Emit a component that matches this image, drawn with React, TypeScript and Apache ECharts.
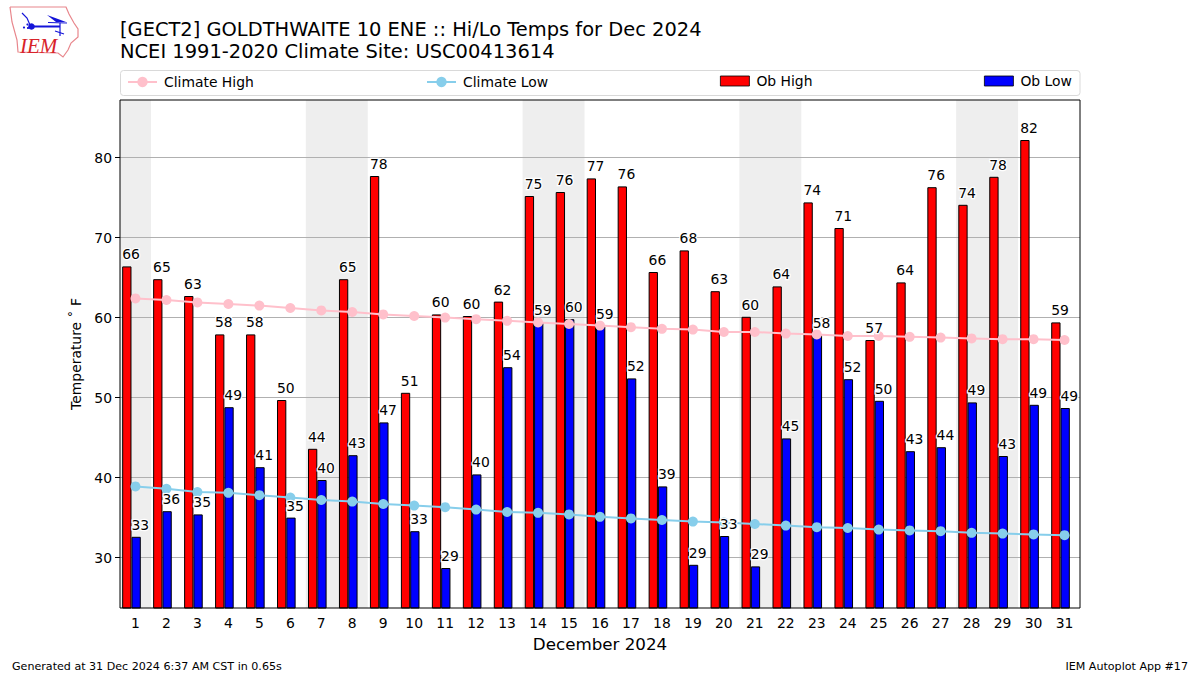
import React, { useEffect, useRef } from "react";
import * as echarts from "echarts";

const days = Array.from({ length: 31 }, (_, i) => String(i + 1));
const obHigh = [66.4, 64.8, 62.7, 57.9, 57.9, 49.7, 43.6, 64.8, 77.7, 50.6, 60.4, 60.2, 62.0, 75.2, 75.7, 77.4, 76.4, 65.7, 68.4, 63.3, 60.1, 63.9, 74.4, 71.2, 57.2, 64.4, 76.3, 74.1, 77.6, 82.2, 59.4];
const obLow = [32.6, 35.8, 35.4, 48.8, 41.3, 35.0, 39.7, 42.8, 46.9, 33.3, 28.7, 40.4, 53.8, 59.4, 59.8, 58.9, 52.4, 38.9, 29.1, 32.7, 28.9, 44.9, 57.8, 52.3, 49.6, 43.3, 43.8, 49.4, 42.7, 49.1, 48.7];
const climateHigh = [62.4, 62.2, 61.9, 61.7, 61.5, 61.2, 60.9, 60.7, 60.4, 60.2, 60.0, 59.8, 59.6, 59.4, 59.2, 59.0, 58.8, 58.6, 58.5, 58.2, 58.2, 58.0, 57.9, 57.7, 57.7, 57.6, 57.5, 57.4, 57.3, 57.3, 57.2];
const climateLow = [38.9, 38.6, 38.2, 38.1, 37.8, 37.5, 37.2, 37.0, 36.7, 36.5, 36.3, 36.0, 35.7, 35.6, 35.4, 35.1, 34.9, 34.7, 34.5, 34.4, 34.2, 34.0, 33.8, 33.7, 33.5, 33.4, 33.3, 33.1, 33.0, 32.9, 32.8];
const yTicks = [30, 40, 50, 60, 70, 80];
const weekendBands = [[0.5, 1.5], [6.5, 8.5], [13.5, 15.5], [20.5, 22.5], [27.5, 29.5]];

const FONT = "DejaVu Sans";
const Y_MIN = 23.7;
const Y_MAX = 87.2;

const logoOutline = [[10, 7], [66, 7], [69, 14], [74, 23], [78, 29], [78, 37], [71, 43], [68, 50], [63, 57], [58, 53], [18, 52], [17, 40], [12, 22], [10, 7]];
const logoWing = [[47, 15], [58, 19], [66, 22], [56, 22]];
const BLUE = "#1414d8";

export default function App() {
  const ref = useRef<HTMLDivElement>(null);
  useEffect(() => {
    document.body.style.margin = "0";
    const chart = echarts.init(ref.current!, null, { renderer: "svg" });
    const barLabel = {
      show: true,
      position: "top" as const,
      align: "left" as const,
      distance: 5,
      offset: [-4.7, 0],
      fontFamily: FONT,
      fontSize: 13.9,
      color: "#000",
      textBorderColor: "#fff",
      textBorderWidth: 2.5,
      formatter: (p: any) => String(Math.round(p.value)),
    };
    const legendBase = {
      orient: "horizontal" as const,
      itemWidth: 29,
      itemGap: 0,
      padding: 0,
      textStyle: { fontFamily: FONT, fontSize: 13.9, color: "#000", padding: [0, 0, 0, 2] },
    };
    const lineLegend = { ...legendBase, top: 75, itemHeight: 13 };
    const barLegend = {
      ...legendBase, top: 74, itemHeight: 10, icon: "rect",
      itemStyle: { borderWidth: 0.8, borderColor: "#000", borderJoin: "miter" },
    };
    const labelOnly = { color: "transparent", borderWidth: 0 };
    chart.setOption({
      animation: false,
      title: {
        text: "[GECT2] GOLDTHWAITE 10 ENE :: Hi/Lo Temps for Dec 2024\nNCEI 1991-2020 Climate Site: USC00413614",
        left: 120,
        top: 18,
        padding: 0,
        textStyle: { fontFamily: FONT, fontSize: 19.45, fontWeight: "normal", color: "#000", lineHeight: 22 },
      },
      legend: [
        { ...lineLegend, left: 127, data: ["Climate High"] },
        { ...lineLegend, left: 426, data: ["Climate Low"] },
        { ...barLegend, left: 720, data: ["Ob High"] },
        { ...barLegend, left: 984, data: ["Ob Low"] },
      ],
      grid: [
        { left: 120, top: 100, width: 960, height: 508, show: true, z: 5, borderColor: "#000", borderWidth: 1, backgroundColor: "transparent" },
        { left: 116, top: 100, width: 960, height: 508 },
        { left: 116, top: 100, width: 960, height: 508 },
      ],
      xAxis: [
        {
          type: "category", gridIndex: 0, data: days,
          name: "December 2024", nameLocation: "middle", nameGap: 27,
          nameTextStyle: { fontFamily: FONT, fontSize: 16.7, color: "#000" },
          axisLine: { show: false },
          axisTick: { alignWithLabel: true, length: 5, lineStyle: { color: "#000" } },
          axisLabel: { interval: 0, margin: 8, fontFamily: FONT, fontSize: 13.9, color: "#000" },
          splitLine: { show: false },
        },
        { type: "category", gridIndex: 1, data: days, show: false },
        { type: "value", gridIndex: 0, min: 0.5, max: 31.5, show: false, splitLine: { show: false } },
        { type: "category", gridIndex: 2, data: days, show: false },
      ],
      yAxis: [
        {
          type: "value", gridIndex: 0, min: Y_MIN, max: Y_MAX, z: 1,
          name: "Temperature ˚ F", nameLocation: "middle", nameGap: 37, nameRotate: 90,
          nameTextStyle: { fontFamily: FONT, fontSize: 13.9, color: "#000" },
          axisLine: { show: false },
          axisTick: { show: true, length: 5, lineStyle: { color: "#000" }, customValues: yTicks },
          axisLabel: { margin: 8, fontFamily: FONT, fontSize: 13.9, color: "#000", customValues: yTicks },
          splitLine: { show: true, lineStyle: { color: "#b0b0b0", width: 1 } },
        },
        { type: "value", gridIndex: 1, min: Y_MIN, max: Y_MAX, show: false, splitLine: { show: false } },
        { type: "value", gridIndex: 2, min: Y_MIN, max: Y_MAX, show: false, splitLine: { show: false } },
      ],
      series: [
        {
          name: "Weekend", type: "line", xAxisIndex: 2, yAxisIndex: 0, data: [], z: 0, silent: true,
          markArea: {
            silent: true,
            z: 0,
            itemStyle: { color: "#eeeeee" },
            data: weekendBands.map(([a, b]) => [{ xAxis: a }, { xAxis: b }]),
          },
        },
        {
          name: "Ob High", type: "bar", xAxisIndex: 1, yAxisIndex: 1, data: obHigh, barWidth: 9.3, barGap: 0, z: 2,
          itemStyle: { color: "#ff0000", borderColor: "#000", borderWidth: 1 },
        },
        {
          name: "Ob Low", type: "bar", xAxisIndex: 1, yAxisIndex: 1, data: obLow, barWidth: 9.3, barGap: 0, z: 2,
          itemStyle: { color: "#0000ff", borderColor: "#000", borderWidth: 1 },
        },
        {
          name: "Climate High", type: "line", xAxisIndex: 0, yAxisIndex: 0, data: climateHigh, z: 3,
          symbol: "circle", symbolSize: 10,
          lineStyle: { color: "#ffc0cb", width: 2 }, itemStyle: { color: "#ffc0cb" },
        },
        {
          name: "Climate Low", type: "line", xAxisIndex: 0, yAxisIndex: 0, data: climateLow, z: 3,
          symbol: "circle", symbolSize: 10,
          lineStyle: { color: "#87ceeb", width: 2 }, itemStyle: { color: "#87ceeb" },
        },
        {
          name: "Ob High values", type: "bar", xAxisIndex: 3, yAxisIndex: 2, data: obHigh, barWidth: 9.3, barGap: 0, z: 4, silent: true,
          itemStyle: labelOnly, label: barLabel,
        },
        {
          name: "Ob Low values", type: "bar", xAxisIndex: 3, yAxisIndex: 2, data: obLow, barWidth: 9.3, barGap: 0, z: 4, silent: true,
          itemStyle: labelOnly, label: barLabel,
        },
      ],
      graphic: [
        { type: "rect", z: -1, shape: { x: 120.5, y: 70.5, width: 959.5, height: 25, r: 3 }, style: { fill: "#fff", stroke: "#d9d9d9", lineWidth: 1 } },
        { type: "polyline", shape: { points: logoOutline }, style: { fill: "#fff", stroke: "#e8868c", lineWidth: 1.2 } },
        { type: "line", shape: { x1: 31, y1: 26.5, x2: 60, y2: 26.5 }, style: { stroke: BLUE, lineWidth: 2 } },
        { type: "circle", shape: { cx: 31.5, cy: 26.5, r: 3.3 }, style: { fill: BLUE } },
        { type: "polyline", shape: { points: [[30, 25], [27, 18], [22, 13]] }, style: { fill: "none", stroke: BLUE, lineWidth: 1.2 } },
        { type: "polygon", shape: { points: logoWing }, style: { fill: BLUE } },
        { type: "line", shape: { x1: 48, y1: 22.5, x2: 67, y2: 23 }, style: { stroke: BLUE, lineWidth: 1 } },
        { type: "line", shape: { x1: 60, y1: 23, x2: 60, y2: 36 }, style: { stroke: BLUE, lineWidth: 1.2 } },
        { type: "line", shape: { x1: 55, y1: 31, x2: 64, y2: 34 }, style: { stroke: BLUE, lineWidth: 1.2 } },
        { type: "circle", shape: { cx: 24, cy: 27.5, r: 1.1 }, style: { fill: BLUE } },
        { type: "circle", shape: { cx: 27.5, cy: 24.5, r: 1.1 }, style: { fill: BLUE } },
        { type: "circle", shape: { cx: 28, cy: 28, r: 1.1 }, style: { fill: BLUE } },
        { type: "text", x: 20, y: 35, style: { text: "IEM", fontFamily: "Liberation Serif", fontStyle: "italic", fontSize: 21, fill: "#d8232a" } },
        { type: "text", x: 12, y: 661, style: { text: "Generated at 31 Dec 2024 6:37 AM CST in 0.65s", fontFamily: FONT, fontSize: 11.1, fill: "#000" } },
        { type: "text", x: 1188, y: 661, style: { text: "IEM Autoplot App #17", align: "right", fontFamily: FONT, fontSize: 11.1, fill: "#000" } },
      ],
    });
    return () => chart.dispose();
  }, []);
  return <div ref={ref} style={{ width: 1200, height: 675 }} />;
}
